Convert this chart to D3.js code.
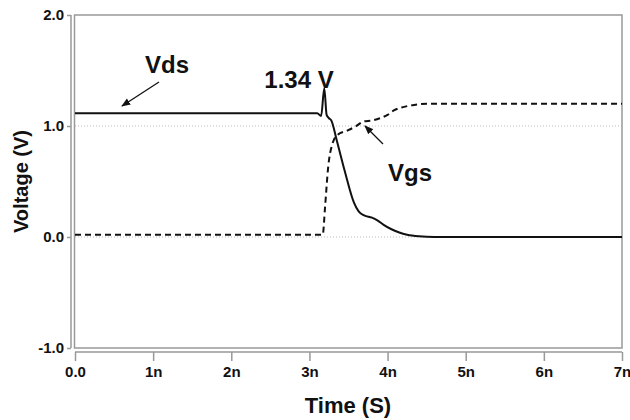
<!DOCTYPE html>
<html lang="en">
<head>
    <meta charset="UTF-8">
    <title>Vds / Vgs</title>
    <script src="https://d3js.org/d3.v7.min.js"></script>
    <style>
      body{ margin:0; background:#fff; }
      svg text{ font-family:"Liberation Sans Narrow","Arial Narrow","Liberation Sans",Arial,sans-serif; font-weight:bold; fill:#111; }
    </style>
</head>
<body>
    <script>
        // data (time in ns, voltage in V)
        const vdsTime = [0, 3.1, 3.15, 3.19, 3.22, 3.25, 3.28, 3.35, 3.45, 3.57, 3.63, 3.7, 3.8, 3.87, 3.95, 4.05, 4.15, 4.25, 4.4, 4.6, 7];
        const vdsValues = [1.115, 1.115, 1.09, 1.34, 1.1, 1.07, 1.05, 0.87, 0.6, 0.31, 0.23, 0.195, 0.175, 0.15, 0.11, 0.07, 0.04, 0.02, 0.006, 0, 0];
        const vgsTime = [0, 3.14, 3.17, 3.2, 3.24, 3.29, 3.36, 3.49, 3.6, 3.69, 3.8, 3.9, 4.0, 4.08, 4.2, 4.34, 4.5, 7];
        const vgsValues = [0.02, 0.02, 0.02, 0.27, 0.63, 0.83, 0.92, 0.96, 1.0, 1.04, 1.05, 1.07, 1.1, 1.14, 1.17, 1.19, 1.2, 1.2];
        const xTicks = [0, 1, 2, 3, 4, 5, 6, 7];
        const yTicks = [-1, 0, 1, 2];
        const gridLines = [0, 1];

        let width = 630;
        let height = 420;
        const x = d3.scaleLinear().domain([0, 7]).range([75, 622]);
        const y = d3.scaleLinear().domain([-1, 2]).range([348, 15]);

        const svg = d3.select("body").append("svg")
            .attr("width", width)
            .attr("height", height);

        const defs = svg.append("defs");
        defs.append("marker")
            .attr("id", "arrow")
            .attr("viewBox", "0 0 10 10")
            .attr("refX", 9).attr("refY", 5)
            .attr("markerWidth", 7).attr("markerHeight", 7)
            .attr("orient", "auto")
            .append("path")
            .attr("d", "M0,1 L10,5 L0,9 z")
            .style("fill", "#111");

        // dotted grid at 0 and 1
        svg.append("g").selectAll("line")
            .data(gridLines)
            .join("line")
            .attr("x1", x(0)).attr("x2", x(7))
            .attr("y1", d => y(d)).attr("y2", d => y(d))
            .style("stroke", "#bbb")
            .style("stroke-width", 1)
            .style("stroke-dasharray", "1,2");

        // plot frame
        svg.append("rect")
            .attr("x", x(0) - 0.5).attr("y", y(2))
            .attr("width", x(7) - x(0) + 0.5).attr("height", y(-1) - y(2))
            .style("fill", "none")
            .style("stroke", "#999")
            .style("stroke-width", 1.5);

        // axes (plain hyphen for the minus sign, as in the original)
        const yAxis = svg.append("g")
            .attr("transform", "translate(71,0)")
            .call(d3.axisLeft(y).tickValues(yTicks).tickFormat(d => d.toFixed(1)).tickSize(4).tickPadding(3));
        const xAxis = svg.append("g")
            .attr("transform", "translate(0,352)")
            .call(d3.axisBottom(x).tickValues(xTicks).tickFormat(d => d === 0 ? "0.0" : d + "n").tickSize(9).tickPadding(5));
        [yAxis, xAxis].forEach(function(a){
            a.select(".domain").style("stroke", "#999").style("stroke-width", 1.5);
            a.selectAll(".tick line").style("stroke", "#999").style("stroke-width", 1.5);
            a.selectAll(".tick text").style("font-size", "15px");
        });
        yAxis.select(".domain").attr("d", `M0,${y(2)}V${y(-1)}`);
        xAxis.select(".domain").attr("d", `M${x(0)},0H${x(7)}`);

        // curves
        const line = d3.line()
            .x(d => x(d[0]))
            .y(d => y(d[1]))
            .curve(d3.curveMonotoneX);

        svg.append("path")
            .datum(d3.zip(vgsTime, vgsValues))
            .attr("d", line)
            .style("fill", "none")
            .style("stroke", "#111")
            .style("stroke-width", 2)
            .style("stroke-dasharray", "6,4");

        svg.append("path")
            .datum(d3.zip(vdsTime, vdsValues))
            .attr("d", line)
            .style("fill", "none")
            .style("stroke", "#111")
            .style("stroke-width", 2);

        // annotations
        svg.append("text").attr("x", 167).attr("y", 73)
            .attr("text-anchor", "middle").style("font-size", "24px").text("Vds");
        svg.append("line")
            .attr("x1", 159).attr("y1", 82).attr("x2", 122).attr("y2", 106)
            .style("stroke", "#111").style("stroke-width", 1.3)
            .attr("marker-end", "url(#arrow)");
        svg.append("text").attr("x", 299).attr("y", 88)
            .attr("text-anchor", "middle").style("font-size", "24px").text("1.34 V");
        svg.append("text").attr("x", 410).attr("y", 181)
            .attr("text-anchor", "middle").style("font-size", "24px").text("Vgs");
        svg.append("line")
            .attr("x1", 383).attr("y1", 144).attr("x2", 365).attr("y2", 126)
            .style("stroke", "#111").style("stroke-width", 1.3)
            .attr("marker-end", "url(#arrow)");

        // axis titles
        svg.append("text")
            .attr("transform", `translate(28,${(y(2) + y(-1)) / 2}) rotate(-90)`)
            .attr("text-anchor", "middle").style("font-size", "20px").text("Voltage (V)");
        svg.append("text")
            .attr("x", 348).attr("y", 413)
            .attr("text-anchor", "middle").style("font-size", "22px").text("Time (S)");
    </script>
</body>
</html>
